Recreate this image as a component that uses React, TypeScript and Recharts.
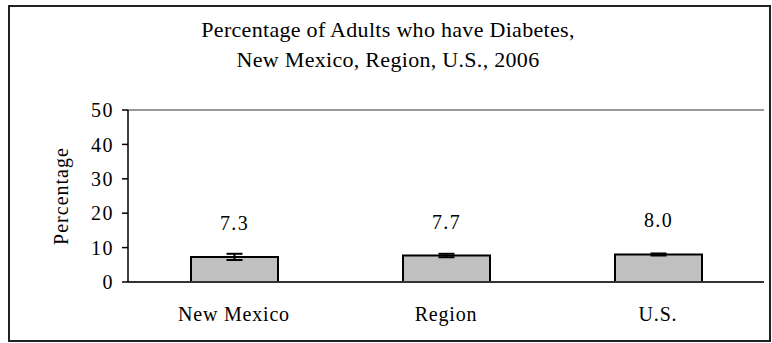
import React from 'react';
import {
  BarChart,
  Bar,
  XAxis,
  YAxis,
  ErrorBar,
  LabelList,
  ReferenceLine,
} from 'recharts';

const categories = ['New Mexico', 'Region', 'U.S.'];
const values = [7.3, 7.7, 8.0];
const errors = [0.9, 0.5, 0.3];
const yTicks = [0, 10, 20, 30, 40, 50];
const boundaryTicks = [0, 1, 2, 3];
const titleLines = ['Percentage of Adults who have Diabetes,', 'New Mexico, Region, U.S., 2006'];

const data = categories.map((name, i) => ({ name, value: values[i], err: errors[i] }));

const FONT = '"Liberation Serif", "Times New Roman", serif';

export default function App() {
  return (
    <div style={{ position: 'absolute', left: 0, top: 0, width: 772, height: 343, background: '#fff' }}>
      <div
        style={{
          position: 'absolute',
          left: 8,
          top: 5,
          width: 763,
          height: 337,
          border: '2px solid #222',
          boxSizing: 'border-box',
        }}
      />
      <div
        style={{
          position: 'absolute',
          left: 0,
          top: 15,
          width: 776,
          textAlign: 'center',
          fontFamily: FONT,
          fontSize: 22,
          lineHeight: '30px',
          letterSpacing: '0.3px',
          color: '#000',
        }}
      >
        {titleLines.map((t) => (
          <div key={t}>{t}</div>
        ))}
      </div>
      <div style={{ position: 'absolute', left: 0, top: 0 }}>
        <BarChart
          width={772}
          height={343}
          data={data}
          margin={{ top: 110, right: 8, bottom: 0, left: 0 }}
        >
          <XAxis
            xAxisId="t"
            type="number"
            domain={[0, 3]}
            ticks={boundaryTicks}
            tick={false}
            axisLine={false}
            tickLine={{ stroke: '#333', strokeWidth: 1 }}
            tickSize={6}
            height={0}
            allowDataOverflow
          />
          <XAxis
            dataKey="name"
            height={61}
            tickLine={false}
            tickSize={6}
            tickMargin={19}
            axisLine={{ stroke: '#333', strokeWidth: 2 }}
            tick={{ fill: '#000', fontFamily: FONT, fontSize: 20, letterSpacing: '0.8px' }}
            interval={0}
          />
          <YAxis
            domain={[0, 50]}
            ticks={yTicks}
            width={128}
            tickSize={6}
            tickMargin={8}
            axisLine={{ stroke: '#000', strokeWidth: 1.5 }}
            tickLine={{ stroke: '#000', strokeWidth: 1.5 }}
            tick={{ fill: '#000', fontFamily: FONT, fontSize: 20, letterSpacing: '1.5px' }}
            allowDataOverflow
            label={{
              value: 'Percentage',
              angle: -90,
              position: 'center',
              dx: -3,
              style: { fill: '#000', fontFamily: FONT, fontSize: 20, letterSpacing: '1px' },
            }}
          />
          <ReferenceLine y={50} stroke="#999" strokeWidth={2} />
          <ReferenceLine x={3} xAxisId="t" stroke="#999" strokeWidth={2} />
          <Bar
            dataKey="value"
            fill="#c0c0c0"
            stroke="#000"
            strokeWidth={2}
            barSize={87}
            isAnimationActive={false}
          >
            <ErrorBar dataKey="err" width={8} stroke="#000" strokeWidth={2} direction="y" />
            <LabelList
              dataKey="value"
              position="top"
              offset={27}
              formatter={(v: number) => v.toFixed(1)}
              style={{ fill: '#000', fontFamily: FONT, fontSize: 20, letterSpacing: '1.3px' }}
            />
          </Bar>
        </BarChart>
      </div>
    </div>
  );
}
